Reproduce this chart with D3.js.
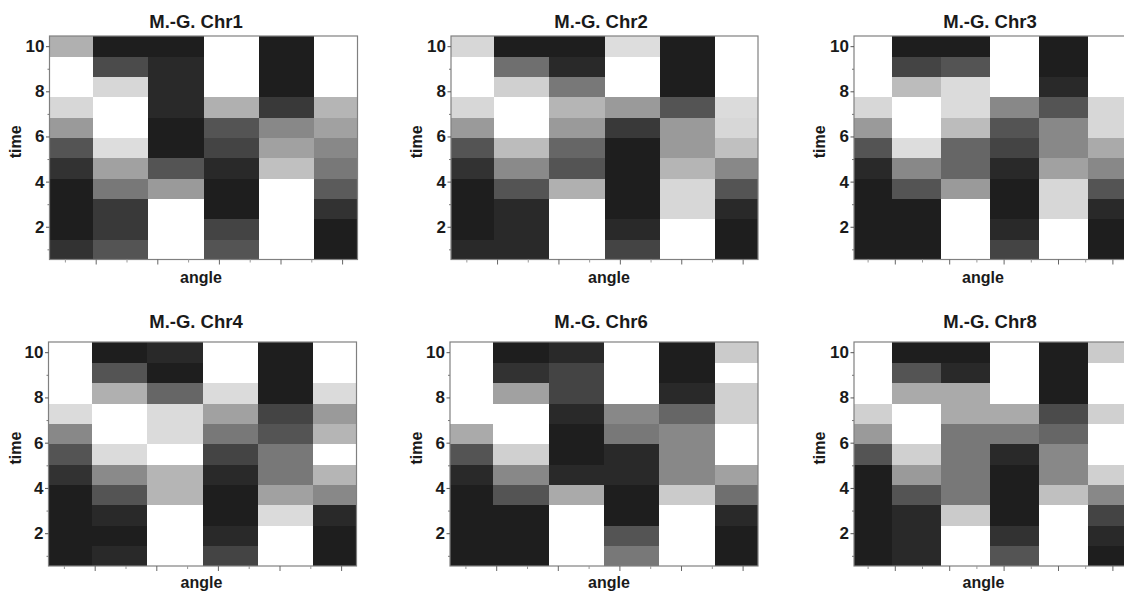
<!DOCTYPE html>
<html>
<head>
<meta charset="utf-8">
<script src="https://cdn.jsdelivr.net/npm/d3@7"></script>
<style>
  html, body { margin: 0; padding: 0; background: #ffffff; }
  svg { display: block; }
  text { font-family: "Liberation Sans", Arial, Helvetica, sans-serif; font-weight: bold; fill: #1a1a1a; }
</style>
</head>
<body>
<svg id="chart" width="1124" height="592"></svg>
<script>
// ---------------- DATA ----------------
// angle (column centres, degrees)
const angles = [0, 36, 72, 108, 144, 180];
// time (row centres)
const times = [1.0, 1.9, 2.8, 3.7, 4.6, 5.5, 6.4, 7.3, 8.2, 9.1, 10.0];
const titles = ["M.-G. Chr1", "M.-G. Chr2", "M.-G. Chr3", "M.-G. Chr4", "M.-G. Chr6", "M.-G. Chr8"];
const yMajorTicks = [2, 4, 6, 8, 10];
const yMinorTicks = [1, 3, 5, 7, 9];
const xMajorTicks = [20, 60, 100, 140, 180];
const xMinorTicks = [0, 40, 80, 120, 160];

// grey level per cell (0 = black, 100 = white); one array per angle column, values listed from time 1.0 upward
const chr1 = [
  [9, 0, 0, 0, 9, 24, 55, 82, 100, 100, 65],
  [24, 12, 12, 40, 58, 85, 100, 100, 82, 20, 0],
  [100, 100, 100, 55, 24, 0, 0, 5, 5, 5, 0],
  [24, 17, 0, 0, 5, 17, 24, 65, 100, 100, 100],
  [100, 100, 100, 100, 72, 58, 47, 12, 0, 0, 0],
  [0, 0, 9, 27, 40, 47, 58, 67, 100, 100, 100]
];
const chr2 = [
  [5, 0, 0, 0, 9, 24, 55, 82, 100, 100, 82],
  [5, 5, 5, 24, 48, 70, 100, 100, 79, 36, 0],
  [100, 100, 100, 65, 24, 32, 55, 67, 40, 5, 0],
  [17, 5, 0, 0, 0, 0, 12, 55, 100, 100, 85],
  [100, 100, 82, 82, 67, 55, 55, 24, 0, 0, 0],
  [0, 0, 5, 24, 47, 72, 82, 84, 100, 100, 100]
];
const chr3 = [
  [0, 0, 0, 0, 5, 24, 55, 82, 100, 100, 100],
  [0, 0, 0, 24, 47, 85, 100, 100, 70, 17, 0],
  [100, 100, 100, 55, 32, 32, 70, 84, 84, 24, 0],
  [17, 5, 0, 0, 5, 17, 24, 47, 100, 100, 100],
  [100, 100, 82, 82, 58, 47, 47, 24, 5, 0, 0],
  [0, 0, 5, 24, 47, 62, 82, 82, 100, 100, 100]
];
const chr4 = [
  [0, 0, 0, 0, 9, 24, 47, 84, 100, 100, 100],
  [5, 0, 5, 24, 48, 84, 100, 100, 65, 24, 0],
  [100, 100, 100, 67, 67, 100, 84, 84, 32, 0, 5],
  [17, 5, 0, 0, 5, 17, 40, 58, 84, 100, 100],
  [100, 100, 84, 58, 40, 40, 24, 17, 0, 0, 0],
  [0, 0, 5, 47, 67, 100, 67, 55, 84, 100, 100]
];
const chr6 = [
  [0, 0, 0, 0, 5, 24, 62, 100, 100, 100, 100],
  [0, 0, 0, 24, 47, 79, 100, 100, 58, 9, 0],
  [100, 100, 100, 62, 5, 0, 0, 5, 17, 17, 5],
  [40, 24, 0, 0, 5, 5, 40, 47, 100, 100, 100],
  [100, 100, 100, 77, 47, 47, 47, 32, 5, 0, 0],
  [0, 0, 5, 36, 58, 100, 100, 79, 79, 100, 77]
];
const chr8 = [
  [0, 0, 0, 0, 0, 24, 55, 79, 100, 100, 100],
  [5, 5, 5, 24, 55, 79, 100, 100, 62, 24, 0],
  [100, 100, 77, 40, 40, 40, 40, 62, 62, 5, 0],
  [24, 9, 0, 0, 0, 5, 40, 62, 100, 100, 100],
  [100, 100, 100, 72, 47, 47, 32, 20, 0, 0, 0],
  [0, 5, 17, 47, 79, 100, 100, 79, 100, 100, 77]
];
const panelsData = [chr1, chr2, chr3, chr4, chr6, chr8];

// ---------------- LAYOUT ----------------
const layout = [
  { left: 49.5, top: 36,  width: 308, height: 223.5, titleX: 196, titleY: 27.5,  angleX: 201,   angleY: 283, timeX: 20.5 },
  { left: 451,  top: 36,  width: 307, height: 223.5, titleX: 601, titleY: 27.5,  angleX: 609,   angleY: 283, timeX: 421.5 },
  { left: 854,  top: 36,  width: 272, height: 223.5, titleX: 990, titleY: 27.5,  angleX: 983,   angleY: 283, timeX: 825 },
  { left: 48.5, top: 342, width: 308, height: 224,   titleX: 196, titleY: 327.5, angleX: 201.5, angleY: 587.5, timeX: 20.5 },
  { left: 450,  top: 342, width: 308, height: 224,   titleX: 601, titleY: 327.5, angleX: 609,   angleY: 587.5, timeX: 421.5 },
  { left: 854,  top: 342, width: 272, height: 224,   titleX: 990, titleY: 327.5, angleX: 983.5, angleY: 587.5, timeX: 825 }
];

const svg = d3.select("#chart");
const color = d3.scaleLinear().domain([0, 100]).range(["#1e1e1e", "#ffffff"]);
const angleStep = angles[1] - angles[0];
const timeStep = times[1] - times[0];

panelsData.forEach((data, p) => {
  const L = layout[p];
  const x = d3.scaleLinear().domain([-10, 190]).range([L.left, L.left + L.width]);
  const y = d3.scaleLinear()
    .domain([times[0] - timeStep / 2, times[times.length - 1] + timeStep / 2])
    .range([L.top + L.height, L.top]);

  const clipId = "clip" + p;
  svg.append("clipPath").attr("id", clipId)
    .append("rect")
    .attr("x", L.left).attr("y", L.top)
    .attr("width", L.width).attr("height", L.height);

  const g = svg.append("g");
  const cells = [];
  data.forEach((col, i) => {
    col.forEach((v, j) => cells.push({ a: angles[i], t: times[j], v }));
  });

  g.append("g").attr("clip-path", `url(#${clipId})`)
    .selectAll("rect").data(cells).join("rect")
    .attr("x", d => x(d.a - angleStep / 2))
    .attr("width", d => x(d.a + angleStep / 2) - x(d.a - angleStep / 2) + 0.5)
    .attr("y", d => y(d.t + timeStep / 2))
    .attr("height", d => y(d.t - timeStep / 2) - y(d.t + timeStep / 2) + 0.5)
    .attr("fill", d => color(d.v))
    .attr("shape-rendering", "crispEdges");

  // frame
  g.append("rect")
    .attr("x", L.left).attr("y", L.top)
    .attr("width", L.width).attr("height", L.height)
    .attr("fill", "none").attr("stroke", "#808080").attr("stroke-width", 1.2);

  // y axis
  const yMaj = g.append("g").attr("transform", `translate(${L.left},0)`)
    .call(d3.axisLeft(y).tickValues(yMajorTicks).tickSize(3.5).tickPadding(1.5).tickFormat(d3.format("d")));
  yMaj.select(".domain").remove();
  yMaj.selectAll("line").attr("stroke", "#555");
  yMaj.selectAll("text")
    .style("font-size", "17px").style("font-weight", "bold")
    .style("font-family", '"Liberation Sans", Arial, sans-serif')
    .attr("fill", "#1a1a1a");

  const yMin = g.append("g").attr("transform", `translate(${L.left},0)`)
    .call(d3.axisLeft(y).tickValues(yMinorTicks).tickSize(2).tickFormat(""));
  yMin.select(".domain").remove();
  yMin.selectAll("line").attr("stroke", "#777");

  // x axis
  const xb = L.top + L.height;
  const xMaj = g.append("g").attr("transform", `translate(0,${xb})`)
    .call(d3.axisBottom(x).tickValues(xMajorTicks).tickSize(5).tickFormat(""));
  xMaj.select(".domain").remove();
  xMaj.selectAll("line").attr("stroke", "#666");
  const xMin = g.append("g").attr("transform", `translate(0,${xb})`)
    .call(d3.axisBottom(x).tickValues(xMinorTicks).tickSize(3).tickFormat(""));
  xMin.select(".domain").remove();
  xMin.selectAll("line").attr("stroke", "#999");

  // titles & labels
  g.append("text")
    .attr("x", L.titleX).attr("y", L.titleY)
    .attr("text-anchor", "middle")
    .style("font-size", "18.5px")
    .text(titles[p]);

  g.append("text")
    .attr("x", L.angleX).attr("y", L.angleY)
    .attr("text-anchor", "middle")
    .style("font-size", "16px")
    .text("angle");

  const tyc = L.top + L.height / 2 - 6;
  g.append("text")
    .attr("transform", `translate(${L.timeX},${tyc}) rotate(-90)`)
    .attr("text-anchor", "middle")
    .style("font-size", "16px")
    .text("time");
});
</script>
</body>
</html>
